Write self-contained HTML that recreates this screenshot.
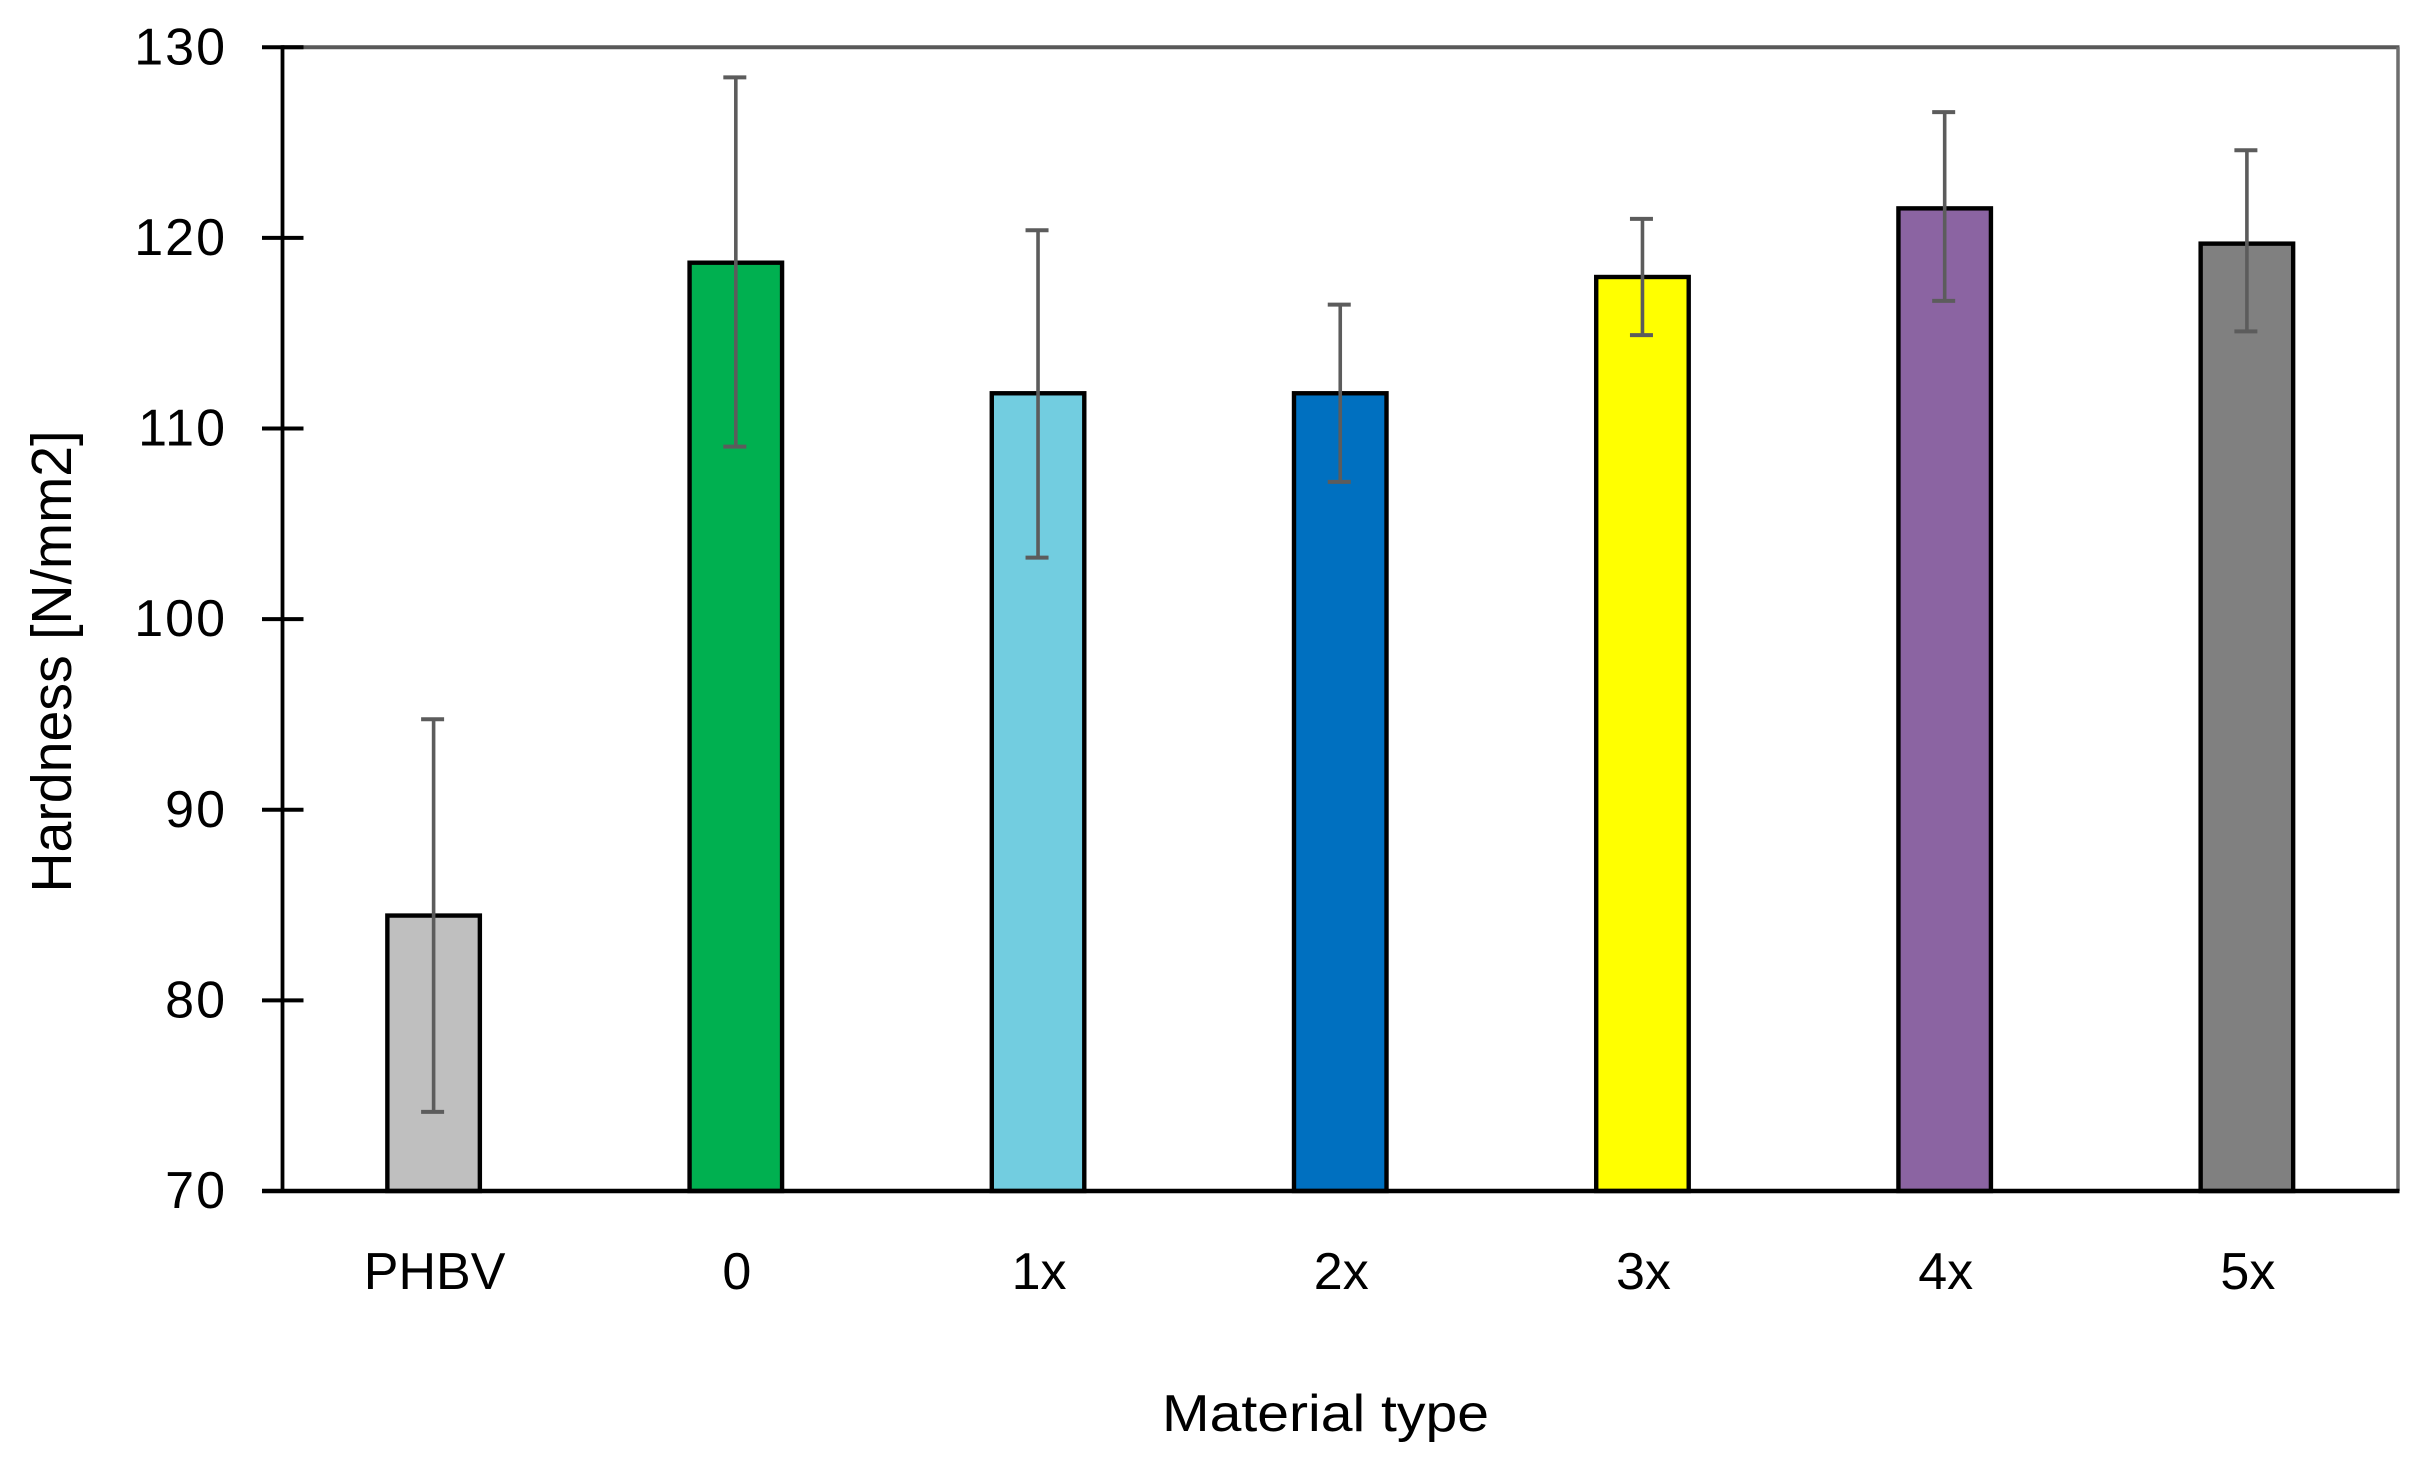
<!DOCTYPE html>
<html>
<head>
<meta charset="utf-8">
<title>Hardness by material type</title>
<style>
html,body{margin:0;padding:0;background:#fff;width:2425px;height:1469px;overflow:hidden}
svg{display:block}
text{font-family:"Liberation Sans",sans-serif;fill:#000}
</style>
</head>
<body>
<svg id="chart" xmlns="http://www.w3.org/2000/svg" width="2425" height="1469" viewBox="0 0 2425 1469">
  <rect x="0" y="0" width="2425" height="1469" fill="#fff"/>
  <text transform="translate(71,661.5) rotate(-90)" text-anchor="middle" font-size="57" textLength="462" lengthAdjust="spacingAndGlyphs">Hardness [N/mm2]</text>
  <text x="1325.5" y="1431" text-anchor="middle" font-size="52" textLength="327" lengthAdjust="spacingAndGlyphs">Material type</text>
</svg>
<script>
const categories = ['PHBV', '0', '1x', '2x', '3x', '4x', '5x'];
const hardness = [84.45, 118.7, 111.85, 111.85, 117.95, 121.55, 119.7];
const errorsUp = [10.3, 9.72, 8.55, 4.65, 3.05, 5.05, 4.9];
const errorsDown = [10.3, 9.65, 8.62, 4.65, 3.05, 4.85, 4.6];
const yTicks = [70, 80, 90, 100, 110, 120, 130];
const barColors = ['#BFBFBF', '#00B050', '#72CDE0', '#0070C0', '#FFFF00', '#8B64A2', '#808080'];

const svg = document.getElementById('chart');
const NS = 'http://www.w3.org/2000/svg';
const plot = {left: 282.5, right: 2398, top: 47.3, bottom: 1191};
const yMin = 70, yMax = 130;
const barWidth = 92.5;
const capWidth = 23;

function yScale(v) {
  return plot.bottom - (v - yMin) / (yMax - yMin) * (plot.bottom - plot.top);
}
function xScale(i) {
  return plot.left + (plot.right - plot.left) / categories.length * (i + 0.5);
}
function make(tag, attrs) {
  const el = document.createElementNS(NS, tag);
  for (const k in attrs) el.setAttribute(k, attrs[k]);
  return el;
}

// plot frame top and right
const frameTop = make('line', {x1: plot.left, x2: plot.right + 1.5, y1: plot.top, y2: plot.top, stroke: '#595959', 'stroke-width': 4});


svg.appendChild(frameTop);
const frameRight = make('line', {x1: plot.right, x2: plot.right, y1: plot.top, y2: plot.bottom, stroke: '#6e6e6e', 'stroke-width': 3.5});


svg.appendChild(frameRight);

// bars
categories.forEach((c, i) => {
  const cx = xScale(i);
  const top = yScale(hardness[i]);
  const bar = make('rect', {x: cx - barWidth / 2, y: top, width: barWidth, height: plot.bottom - top, fill: barColors[i], stroke: '#000', 'stroke-width': 4.4});
  
  
  svg.appendChild(bar);
});

// error bars
categories.forEach((c, i) => {
  const cx = xScale(i);
  const hi = yScale(hardness[i] + errorsUp[i]);
  const lo = yScale(hardness[i] - errorsDown[i]);
  const g = make('g', {stroke: '#5c5c5c'});
  
  
  g.appendChild(make('line', {x1: cx, x2: cx, y1: hi, y2: lo, 'stroke-width': 3.6}));
  g.appendChild(make('line', {x1: cx - capWidth / 2 - 1, x2: cx + capWidth / 2 - 1, y1: hi, y2: hi, 'stroke-width': 4}));
  g.appendChild(make('line', {x1: cx - capWidth / 2 - 1, x2: cx + capWidth / 2 - 1, y1: lo, y2: lo, 'stroke-width': 4}));
  svg.appendChild(g);
});

// y axis
const yAxis = make('line', {x1: plot.left, x2: plot.left, y1: plot.top - 2, y2: plot.bottom, stroke: '#000', 'stroke-width': 3.8});


svg.appendChild(yAxis);

// x axis
const xAxis = make('line', {x1: 262, x2: plot.right + 1.5, y1: plot.bottom, y2: plot.bottom, stroke: '#000', 'stroke-width': 4.6});


svg.appendChild(xAxis);

// y ticks and labels
yTicks.forEach(t => {
  const y = yScale(t);
  const tick = make('line', {x1: 262, x2: 303.5, y1: y, y2: y, stroke: '#000', 'stroke-width': 4});
  
  
  svg.appendChild(tick);
  const label = make('text', {x: 227, y: y + 17, 'text-anchor': 'end', 'font-size': 52, 'letter-spacing': 2});
  
  
  label.textContent = t;
  svg.appendChild(label);
});

// x labels
categories.forEach((c, i) => {
  const label = make('text', {x: xScale(i) + 1, y: 1289, 'text-anchor': 'middle', 'font-size': 52});
  
  
  label.textContent = c;
  svg.appendChild(label);
});
</script>
</body>
</html>
